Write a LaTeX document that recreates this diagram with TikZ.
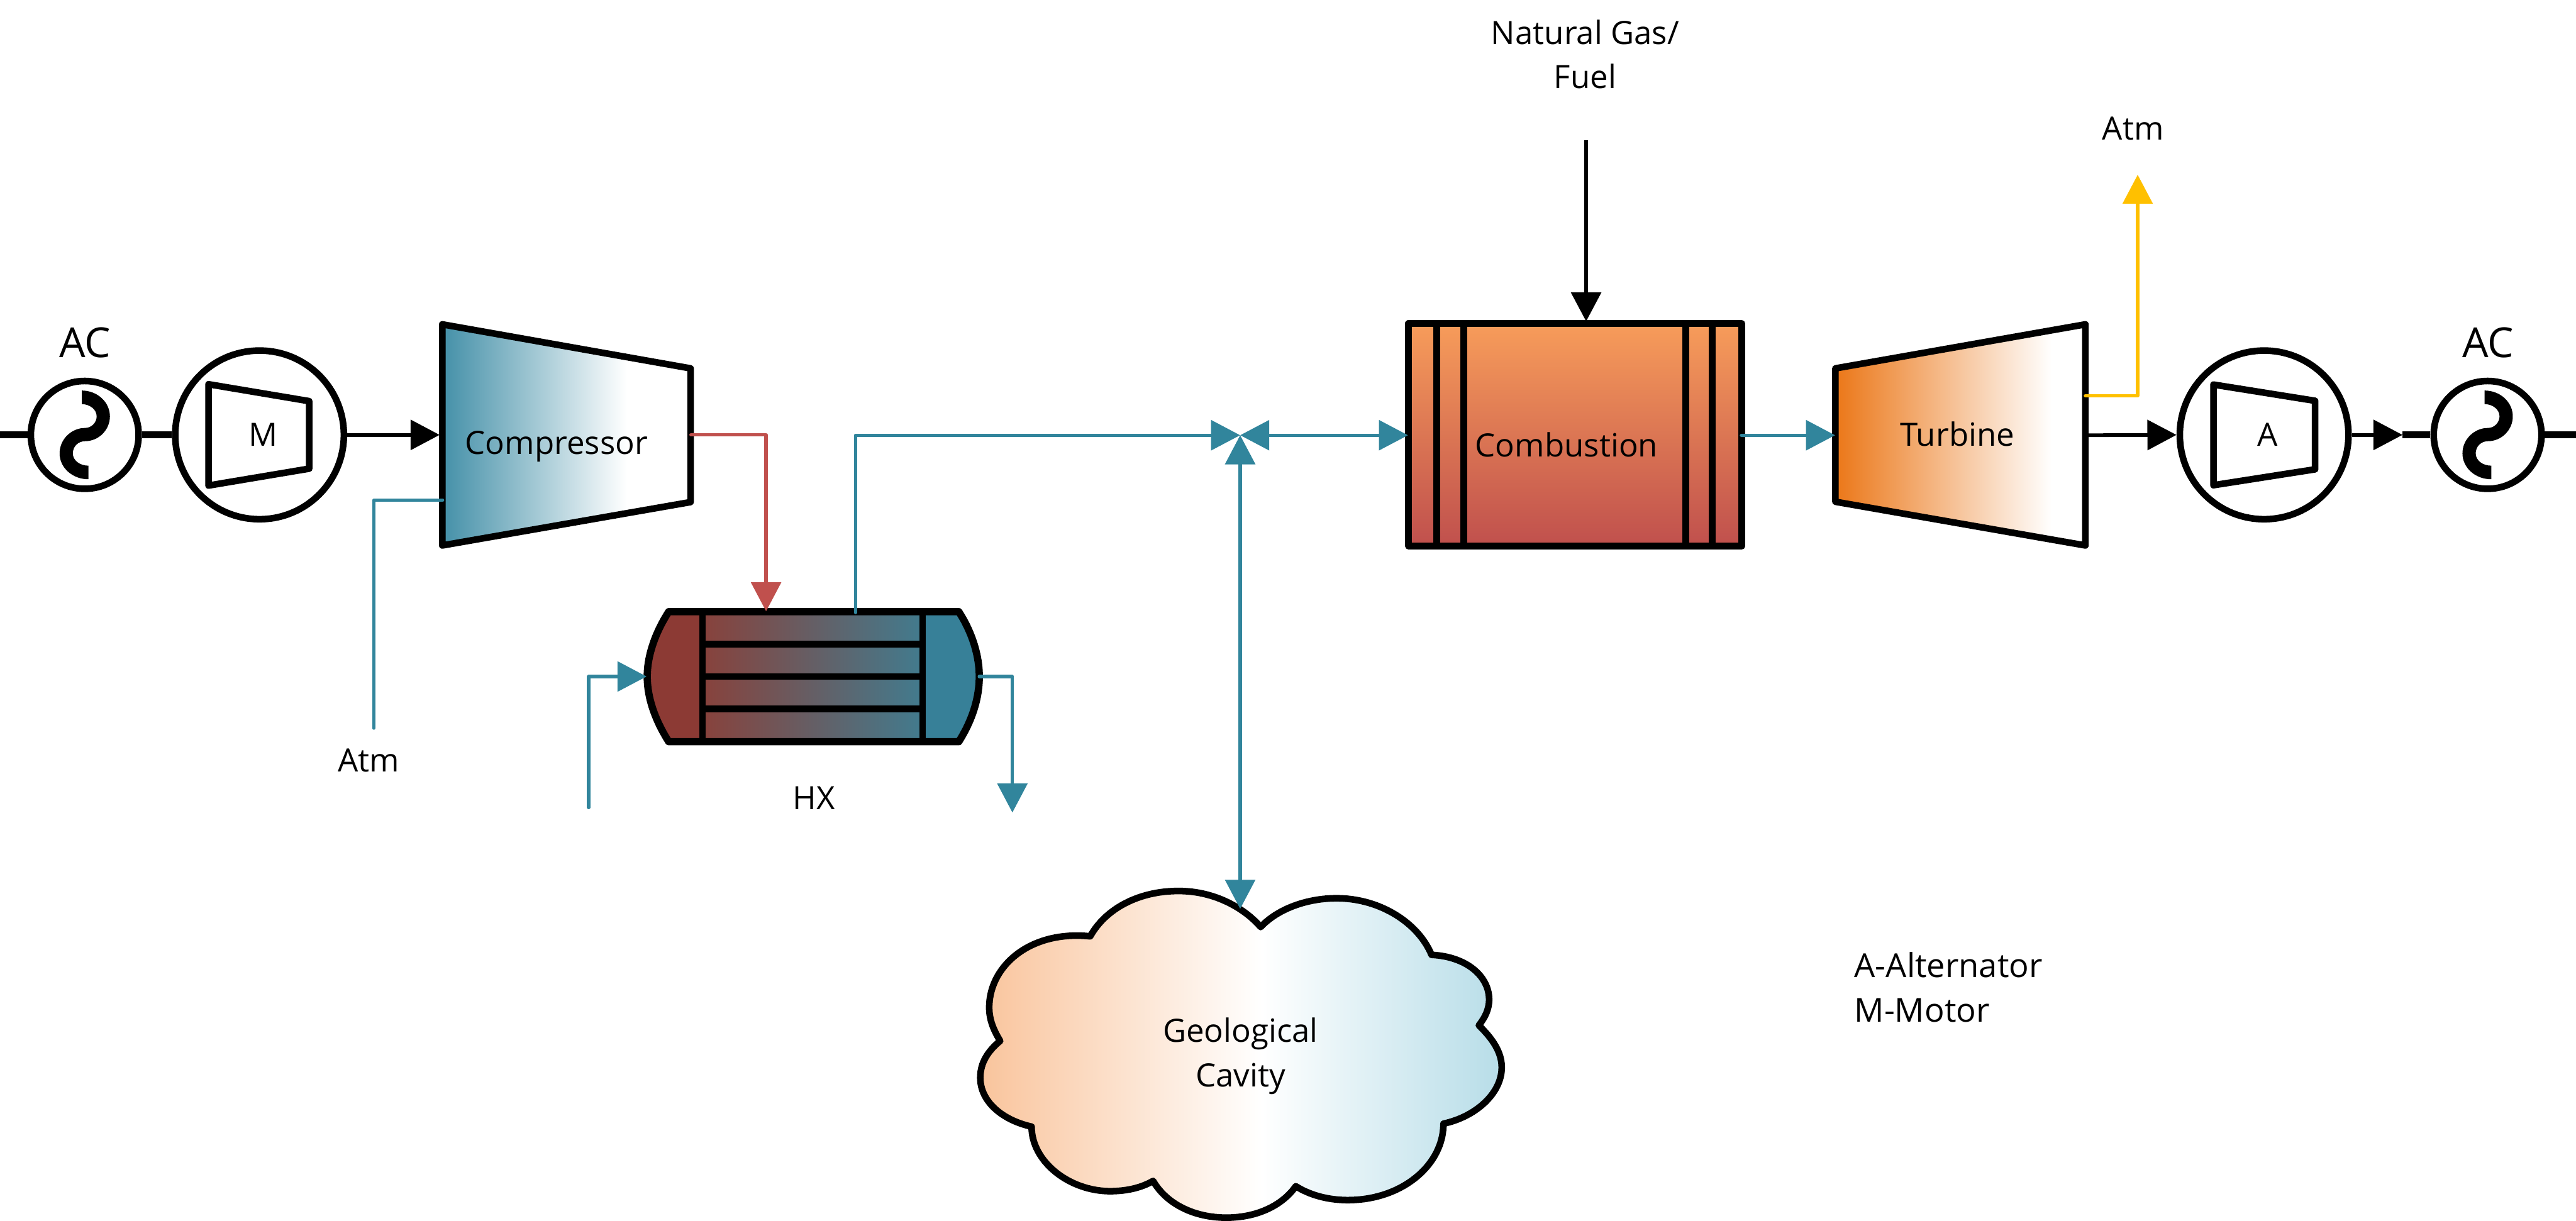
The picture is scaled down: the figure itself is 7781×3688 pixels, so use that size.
\documentclass[tikz,border=0pt]{standalone}
\usepackage{fontspec}
\setmainfont{Open Sans}
\usetikzlibrary{arrows.meta}
\definecolor{cteal}{HTML}{31859C}
\definecolor{cred}{HTML}{C0504D}
\definecolor{cyel}{HTML}{FFC000}
\definecolor{compL}{HTML}{4490A8}
\definecolor{turbL}{HTML}{EB7718}
\definecolor{combT}{HTML}{F79C5A}
\definecolor{combB}{HTML}{C0504D}
\definecolor{cloudL}{HTML}{F9C49C}
\definecolor{cloudR}{HTML}{B7DDE8}
\definecolor{hxRed}{HTML}{8C3A34}
\definecolor{hxBlue}{HTML}{378098}
\definecolor{hxMidL}{HTML}{88423C}
\definecolor{hxMidR}{HTML}{427B8E}
\pgfdeclarehorizontalshading{compsh}{100bp}{color(0bp)=(compL); color(25bp)=(compL); color(62.2bp)=(white); color(100bp)=(white)}
\pgfdeclarehorizontalshading{turbsh}{100bp}{color(0bp)=(turbL); color(25bp)=(turbL); color(68.3bp)=(white); color(100bp)=(white)}
\pgfdeclarehorizontalshading{cloudsh}{100bp}{color(0bp)=(cloudL); color(25bp)=(cloudL); color(52bp)=(white); color(75bp)=(cloudR); color(100bp)=(cloudR)}
\tikzset{
  heavy/.style={draw=black,line width=0.1cm,line join=round},
  thinblk/.style={draw=black,line width=0.055cm},
  flowhead/.style={-{Triangle[length=0.44cm,width=0.45cm]}},
  blackflow/.style={thinblk,flowhead},
  tealplain/.style={draw=cteal,line width=0.05cm,line cap=round,line join=round},
  tealflow/.style={tealplain,flowhead},
  tealboth/.style={draw=cteal,line width=0.05cm,{Triangle[length=0.44cm,width=0.45cm]}-{Triangle[length=0.44cm,width=0.45cm]}},
  redflow/.style={draw=cred,line width=0.05cm,line cap=round,line join=round,flowhead},
  yelflow/.style={draw=cyel,line width=0.05cm,line cap=round,line join=round,flowhead},
  lead/.style={draw=black,line width=0.105cm},
  rot/.style={circle,draw=black,line width=0.1cm,fill=white,inner sep=0pt,outer sep=0.05cm},
  acrot/.style={rot,minimum size=1.63cm},
  mrot/.style={rot,minimum size=2.55cm},
  lab/.style={inner sep=0pt,font=\fontsize{13.8}{19}\selectfont,text=black},
  leglab/.style={inner sep=0pt,font=\fontsize{14.2}{19}\selectfont,text=black},
  ablab/.style={inner sep=0pt,font=\fontsize{17.8}{22}\selectfont,text=black},
  acglyph/.pic={\fill[black] (-9,-134) .. controls (38,-134) and (76,-99) .. (76,-56)
     .. controls (76,-15) and (42,19) .. (1,19)
     .. controls (-20,19) and (-36,35) .. (-36,56)
     .. controls (-36,77) and (-15,93) .. (11,93) -- (11,134)
     .. controls (-37,134) and (-76,99) .. (-76,56)
     .. controls (-76,13) and (-40,-21) .. (1,-21)
     .. controls (20,-21) and (36,-37) .. (36,-56)
     .. controls (36,-77) and (15,-93) .. (-9,-93) -- cycle;}
}
\begin{document}
\begin{tikzpicture}[x=0.005cm,y=-0.005cm]
\useasboundingbox (0,0) rectangle (7781,3688);

% rotating machines
\node[acrot] (acl) at (256,1314) {};
\pic at (acl) {acglyph};
\node[mrot] (mot) at (784,1314) {};
\draw[heavy] (630,1161) -- (934,1212) -- (934,1416) -- (630,1467) -- cycle;
\node[lab,anchor=base] (mlab) at (795,1347) {M};
\node[acrot] (acr) at (7514,1314) {};
\pic at (acr) {acglyph};
\node[mrot] (alt) at (6839,1314) {};
\draw[heavy] (6686,1162) -- (6993,1211) -- (6993,1418) -- (6686,1466) -- cycle;
\node[lab,anchor=base] (alab) at (6850,1347) {A};
\node[ablab,anchor=base] (aclab) at (257,1080) {AC};
\node[ablab,anchor=base] (acrlab) at (7515,1080) {AC};

% compressor
\path[heavy,shading=compsh] (1336,980) -- (2086,1113) -- (2086,1517) -- (1336,1648) -- cycle;
\node[lab,anchor=base] (comp) at (1681,1373) {Compressor};
% turbine
\path[heavy,shading=turbsh] (5544,1113) -- (6299,980) -- (6299,1648) -- (5544,1516) -- cycle;
\node[lab,anchor=base] (turb) at (5912,1347) {Turbine};
% combustion
\path[shading=axis,top color=combT,bottom color=combB] (4255,978) rectangle (5261,1650);
\draw[line width=0.105cm,line join=round] (4255,978) rectangle (5261,1650);
\foreach \vx in {4340,4421,5092,5172}{\draw[line width=0.1cm] (\vx,978) -- (\vx,1650);}
\node[lab,anchor=base] (comb) at (4732,1380) {Combustion};

% heat exchanger
\fill[hxRed] (2020,1848) .. controls (1980,1910) and (1955,1980) .. (1955,2044) .. controls (1955,2110) and (1980,2178) .. (2020,2241) -- (2122,2241) -- (2122,1848) -- cycle;
\fill[hxBlue] (2896,1848) .. controls (2936,1910) and (2958,1980) .. (2958,2044) .. controls (2958,2110) and (2936,2178) .. (2896,2241) -- (2787,2241) -- (2787,1848) -- cycle;
\path[left color=hxMidL,right color=hxMidR] (2122,1848) rectangle (2787,2241);
\draw[line width=0.11cm,line join=round] (2020,1848) -- (2896,1848) .. controls (2936,1910) and (2958,1980) .. (2958,2044) .. controls (2958,2110) and (2936,2178) .. (2896,2241) -- (2020,2241) .. controls (1980,2178) and (1955,2110) .. (1955,2044) .. controls (1955,1980) and (1980,1910) .. (2020,1848) -- cycle;
\foreach \vx in {2122,2787}{\draw[line width=0.1cm] (\vx,1848) -- (\vx,2241);}
\foreach \hy in {1946,2044,2142}{\draw[line width=0.1cm] (2122,\hy) -- (2787,\hy);}
\node[lab,anchor=base] (hx) at (2459,2445) {HX};

% cloud
\path[heavy,shading=cloudsh]
 (3808,2801) .. controls (3860,2745) and (3950,2714) .. (4037,2714)
 .. controls (4170,2714) and (4285,2790) .. (4324,2885)
 .. controls (4430,2890) and (4498,2950) .. (4498,3020)
 .. controls (4498,3050) and (4485,3075) .. (4467,3098)
 .. controls (4510,3140) and (4536,3180) .. (4536,3225)
 .. controls (4536,3305) and (4455,3375) .. (4360,3395)
 .. controls (4360,3520) and (4235,3626) .. (4071,3626)
 .. controls (4010,3626) and (3955,3610) .. (3914,3584)
 .. controls (3875,3640) and (3800,3679) .. (3704,3679)
 .. controls (3610,3679) and (3525,3640) .. (3483,3568)
 .. controls (3445,3590) and (3400,3599) .. (3353,3599)
 .. controls (3230,3599) and (3116,3510) .. (3116,3404)
 .. controls (3030,3385) and (2961,3330) .. (2961,3256)
 .. controls (2961,3210) and (2985,3175) .. (3021,3145)
 .. controls (3000,3110) and (2988,3080) .. (2988,3044)
 .. controls (2988,2920) and (3110,2810) .. (3293,2829)
 .. controls (3340,2745) and (3440,2692) .. (3560,2692)
 .. controls (3670,2692) and (3760,2745) .. (3808,2801) -- cycle;
\node[lab,anchor=base,align=center] (cave) at (3747,3283) {Geological\\Cavity};

% labels
\node[lab,anchor=base,align=center] (gas) at (4788,267) {Natural Gas/\\Fuel};
\node[lab,anchor=base] (atmt) at (6443,422) {Atm};
\node[lab,anchor=base] (atml) at (1114,2332) {Atm};
\node[leglab,anchor=base west] (lega) at (5600,2953) {A-Alternator};
\node[leglab,anchor=base west] (legm) at (5600,3087) {M-Motor};

% ports
\coordinate (edgeL) at (0,1314);
\coordinate (edgeR) at (7781,1314);
\coordinate (compIn) at (1328,1314);
\coordinate (compOut) at (2087,1314);
\coordinate (compAir) at (1337,1511);
\coordinate (atmIn) at (1129,2200);
\coordinate (hxHot) at (2314,1847);
\coordinate (hxOut) at (2584,1851);
\coordinate (junc) at (3746,1315);
\coordinate (cloudTop) at (3746,2746);
\coordinate (combL) at (4253,1315);
\coordinate (combR) at (5260,1315);
\coordinate (turbIn) at (5543,1315);
\coordinate (turbOut) at (6307,1315);
\coordinate (turbEx) at (6299,1196);
\coordinate (atmOut) at (6457,528);
\coordinate (gasIn) at (4791,424);
\coordinate (combTop) at (4791,971);
\coordinate (hxWaterIn) at (1778,2440);
\coordinate (hxWaterTip) at (1953,2044);
\coordinate (hxWaterOut) at (2958,2044);
\coordinate (waterEnd) at (3058,2455);
\coordinate (arrL) at (7257,1314);

% connectors
\draw[lead] (edgeL) -- (acl.west);
\draw[lead] (acl.east) -- (mot.west);
\draw[blackflow] (mot.east) -- (compIn);
\draw[tealplain] (compAir) -| (atmIn);
\draw[redflow] (compOut) -| (hxHot);
\draw[tealflow] (hxOut) |- (junc);
\draw[tealboth] (junc) -- (combL);
\draw[tealboth] (junc) -- (cloudTop);
\draw[tealflow] (combR) -- (turbIn);
\draw[blackflow] (gasIn) -- (combTop);
\draw[tealflow] (hxWaterIn) |- (hxWaterTip);
\draw[tealflow] (hxWaterOut) -| (waterEnd);
\draw[yelflow] (turbEx) -| (atmOut);
\draw[blackflow] (turbOut) -- (alt.west);
\draw[blackflow] (alt.east) -- (arrL);
\draw[lead] (arrL) -- (acr.west);
\draw[lead] (acr.east) -- (edgeR);
\end{tikzpicture}
\end{document}
